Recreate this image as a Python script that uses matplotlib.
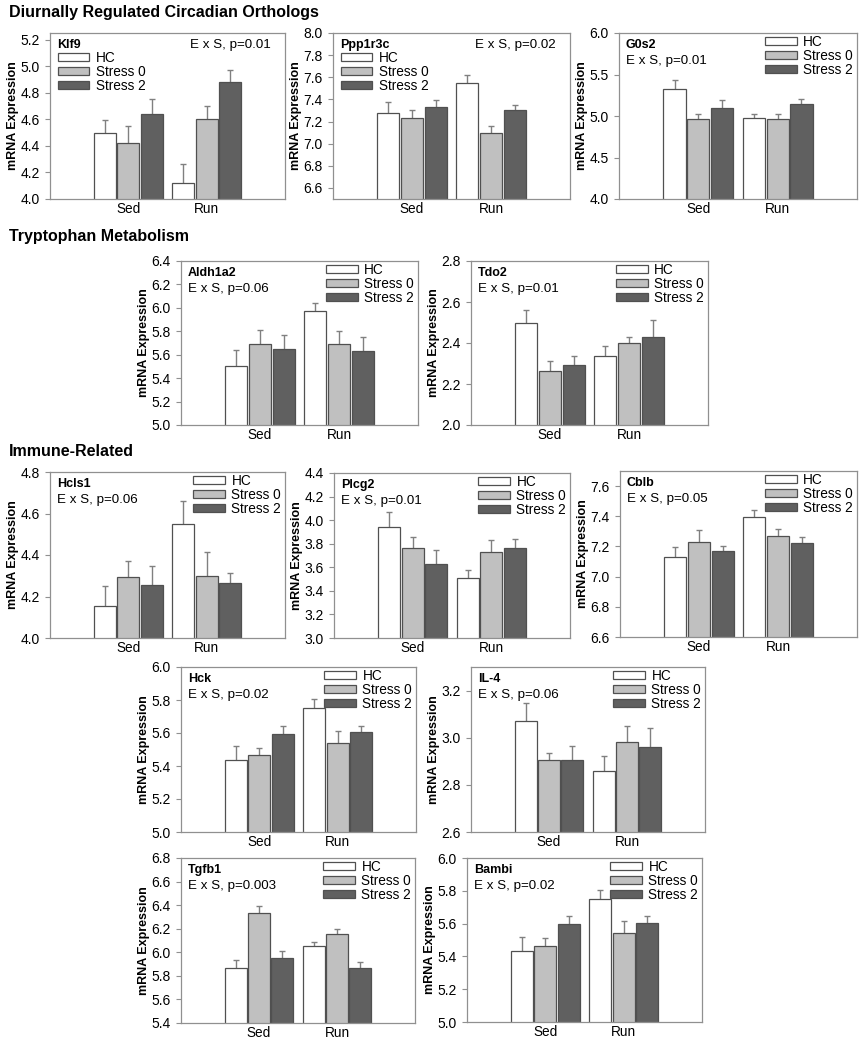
import numpy as np
import matplotlib
matplotlib.use('Agg')
import matplotlib.pyplot as plt
from matplotlib.patches import Patch

plt.rcParams['font.family'] = ['Liberation Sans', 'DejaVu Sans']

groups = ['Sed', 'Run']
series = ['HC', 'Stress 0', 'Stress 2']
colors = ['#ffffff', '#c0c0c0', '#606060']

genes = ['Klf9', 'Ppp1r3c', 'G0s2', 'Aldh1a2', 'Tdo2', 'Hcls1',
         'Plcg2', 'Cblb', 'Hck', 'IL-4', 'Tgfb1', 'Bambi']
p_text = ['E x S, p=0.01', 'E x S, p=0.02', 'E x S, p=0.01', 'E x S, p=0.06',
          'E x S, p=0.01', 'E x S, p=0.06', 'E x S, p=0.01', 'E x S, p=0.05',
          'E x S, p=0.02', 'E x S, p=0.06', 'E x S, p=0.003', 'E x S, p=0.02']

# means [HC, Stress 0, Stress 2] x [Sed, Run], and SEM
klf9 = [[4.50, 4.12], [4.42, 4.60], [4.64, 4.88]]
klf9_err = [[0.095, 0.14], [0.13, 0.10], [0.11, 0.09]]
ppp1r3c = [[7.28, 7.55], [7.23, 7.10], [7.33, 7.30]]
ppp1r3c_err = [[0.094, 0.069], [0.078, 0.063], [0.064, 0.052]]
g0s2 = [[5.33, 4.97], [4.96, 4.96], [5.10, 5.14]]
g0s2_err = [[0.10, 0.055], [0.065, 0.065], [0.095, 0.07]]
aldh1a2 = [[5.50, 5.97], [5.69, 5.69], [5.645, 5.63]]
aldh1a2_err = [[0.14, 0.075], [0.12, 0.11], [0.12, 0.12]]
tdo2 = [[2.50, 2.335], [2.265, 2.40], [2.295, 2.43]]
tdo2_err = [[0.06, 0.05], [0.045, 0.03], [0.042, 0.08]]
hcls1 = [[4.155, 4.55], [4.295, 4.30], [4.255, 4.267]]
hcls1_err = [[0.095, 0.11], [0.075, 0.115], [0.093, 0.045]]
plcg2 = [[3.94, 3.51], [3.76, 3.73], [3.63, 3.76]]
plcg2_err = [[0.13, 0.07], [0.10, 0.10], [0.12, 0.08]]
cblb = [[7.133, 7.396], [7.229, 7.267], [7.173, 7.222]]
cblb_err = [[0.063, 0.046], [0.078, 0.047], [0.03, 0.038]]
hck = [[5.434, 5.753], [5.465, 5.542], [5.596, 5.606]]
hck_err = [[0.085, 0.052], [0.045, 0.073], [0.049, 0.039]]
il4 = [[3.07, 2.86], [2.904, 2.981], [2.907, 2.961]]
il4_err = [[0.076, 0.063], [0.032, 0.07], [0.057, 0.082]]
tgfb1 = [[5.867, 6.052], [6.336, 6.153], [5.951, 5.865]]
tgfb1_err = [[0.07, 0.036], [0.056, 0.045], [0.06, 0.055]]
bambi = [[5.434, 5.753], [5.465, 5.542], [5.596, 5.606]]
bambi_err = [[0.085, 0.052], [0.045, 0.073], [0.049, 0.039]]

means = [klf9, ppp1r3c, g0s2, aldh1a2, tdo2, hcls1, plcg2, cblb, hck, il4, tgfb1, bambi]
errs = [klf9_err, ppp1r3c_err, g0s2_err, aldh1a2_err, tdo2_err, hcls1_err,
        plcg2_err, cblb_err, hck_err, il4_err, tgfb1_err, bambi_err]

# y axis: (min, max, tick start, tick stop, step)
yaxes = [(4.0, 5.25, 4.0, 5.2, 0.2), (6.5, 8.0, 6.6, 8.0, 0.2), (4.0, 6.0, 4.0, 6.0, 0.5),
         (5.0, 6.4, 5.0, 6.4, 0.2), (2.0, 2.8, 2.0, 2.8, 0.2), (4.0, 4.8, 4.0, 4.8, 0.2),
         (3.0, 4.4, 3.0, 4.4, 0.2), (6.6, 7.7, 6.6, 7.6, 0.2), (5.0, 6.0, 5.0, 6.0, 0.2),
         (2.6, 3.3, 2.6, 3.2, 0.2), (5.4, 6.8, 5.4, 6.8, 0.2), (5.0, 6.0, 5.0, 6.0, 0.2)]

# axes boxes in pixels: left, top, right, bottom
boxes = [(50, 33, 285, 199), (333, 33, 570, 199), (619, 33, 857, 199),
         (181, 261, 418, 425), (471, 261, 708, 425),
         (50, 472, 285, 638), (334, 473, 570, 638), (620, 471, 857, 637),
         (181, 667, 416, 832), (471, 667, 705, 832),
         (181, 858, 415, 1023), (467, 858, 702, 1022)]
left_legend = [True, True] + [False] * 10

W, H = 861, 1042
fig = plt.figure(figsize=(W / 100, H / 100), dpi=100)

edge = '#505050'
frame = '#909090'
x = np.array([1.0, 2.0])
off = 0.3
bw = 0.28

for i in range(len(genes)):
    l, t, r, b = boxes[i]
    ax = fig.add_axes([l / W, 1 - b / H, (r - l) / W, (b - t) / H])
    for k in range(3):
        xs = x + (k - 1) * off
        ax.errorbar(xs, means[i][k], yerr=errs[i][k], fmt='none', ecolor='#808080',
                    elinewidth=1, capsize=2.5, capthick=1, zorder=1)
        ax.bar(xs, means[i][k], width=bw, color=colors[k], edgecolor=edge,
               linewidth=0.9, zorder=2, label=series[k])
    y0, y1, ts, te, st = yaxes[i]
    ax.set_xlim(0, 3)
    ax.set_ylim(y0, y1)
    ticks = np.arange(ts, te + st / 2, st)
    ax.set_yticks(ticks)
    ax.set_yticklabels(['%.1f' % v for v in ticks])
    ax.set_xticks(x)
    ax.set_xticklabels(groups)
    ax.tick_params(axis='y', direction='out', length=3.5, width=0.8, color=frame,
                   labelsize=10, pad=4)
    ax.tick_params(axis='x', length=0, labelsize=9.8, pad=2.5)
    for s in ax.spines.values():
        s.set_color(frame)
        s.set_linewidth(0.9)
    ax.set_ylabel('mRNA Expression', fontsize=9, fontweight='bold', labelpad=1)

    ax.annotate(genes[i], xy=(0, 1), xycoords='axes fraction', xytext=(5, -4),
                textcoords='offset points', ha='left', va='top',
                fontsize=9, fontweight='bold')
    handles = [Patch(facecolor=colors[k], edgecolor=edge, linewidth=0.9) for k in range(3)]
    if left_legend[i]:
        ax.annotate(p_text[i], xy=(1, 1), xycoords='axes fraction', xytext=(-10, -4),
                    textcoords='offset points', ha='right', va='top', fontsize=9.6)
        ax.legend(handles, series, loc='upper left', bbox_to_anchor=(8 / 235, 1 - 18 / 166),
                  frameon=False, fontsize=9.8, borderpad=0, borderaxespad=0,
                  handlelength=2.3, handleheight=0.45, handletextpad=0.5, labelspacing=0)
    else:
        ax.annotate(p_text[i], xy=(0, 1), xycoords='axes fraction', xytext=(5, -16),
                    textcoords='offset points', ha='left', va='top', fontsize=9.6)
        ax.legend(handles, series, loc='upper right', bbox_to_anchor=(1 - 4 / 236, 1 - 2 / 166),
                  frameon=False, fontsize=9.8, borderpad=0, borderaxespad=0,
                  handlelength=2.3, handleheight=0.45, handletextpad=0.5, labelspacing=0)

fig.text(9 / W, 1 - 12 / H, 'Diurnally Regulated Circadian Orthologs', fontsize=11.5,
         fontweight='bold', va='center')
fig.text(9 / W, 1 - 237 / H, 'Tryptophan Metabolism', fontsize=11.5, fontweight='bold', va='center')
fig.text(9 / W, 1 - 452 / H, 'Immune-Related', fontsize=11.5, fontweight='bold', va='center')

fig.savefig('out.png', dpi=100)
